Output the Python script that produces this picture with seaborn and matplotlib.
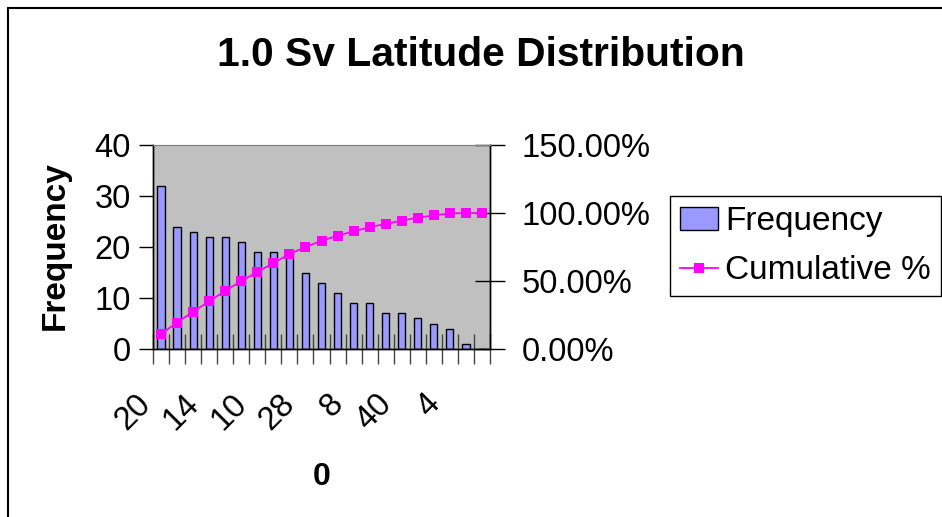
import numpy as np
import pandas as pd
import seaborn as sns
import matplotlib.pyplot as plt
from matplotlib.patches import Rectangle
from matplotlib.transforms import ScaledTranslation
from matplotlib.ticker import PercentFormatter, FixedLocator, MultipleLocator

# Frequency per latitude bin, sorted descending (Pareto order)
frequency = [32, 24, 23, 22, 22, 21, 19, 19, 19, 15, 13, 11, 9, 9, 7, 7, 6, 5, 4, 1, 0]
# only every third bin label is shown on the chart
shown_labels = ['20', '14', '10', '28', '8', '40', '4']

df = pd.DataFrame({'bin': np.arange(len(frequency)), 'Frequency': frequency})
df['Cumulative %'] = df['Frequency'].cumsum() / df['Frequency'].sum()

plt.rcParams['font.family'] = ['Liberation Sans', 'DejaVu Sans']

fig = plt.figure(figsize=(9.42, 5.17), dpi=100)
ax = fig.add_axes([153 / 942, 1 - 349 / 517, 337 / 942, 204 / 517])
ax2 = ax.twinx()

sns.barplot(data=df, x='bin', y='Frequency', native_scale=True, width=0.45,
            color='#9999FF', saturation=1, edgecolor='black', linewidth=1, ax=ax,
            label='Frequency')
sns.lineplot(data=df, x='bin', y='Cumulative %', color='#FF00FF', marker='s',
             markersize=6.5, markeredgewidth=0, linewidth=1.3, ax=ax2,
             label='Cumulative %', legend=False)
if ax.get_legend() is not None:
    ax.get_legend().remove()

ax.set_facecolor('#C0C0C0')
ax.set_xlim(-0.5, len(frequency) - 0.5)
ax.set_ylim(0, 40)
ax2.set_ylim(0, 1.5)
ax.set_zorder(0)
ax2.patch.set_visible(False)

tick_size = 23.5

# left axis
ax.yaxis.set_major_locator(MultipleLocator(10))
ax.tick_params(axis='y', direction='out', length=10, width=1, labelsize=tick_size, pad=6)
# bottom axis: ticks between bins, labels every third bin
ax.xaxis.set_major_locator(FixedLocator(np.arange(0, len(frequency), 3)))
ax.set_xticklabels(shown_labels, rotation=45, ha='right', va='center',
                   rotation_mode='anchor')
ax.xaxis.set_minor_locator(FixedLocator(np.arange(-0.5, len(frequency), 1)))
ax.tick_params(axis='x', which='major', length=0, labelsize=tick_size, pad=36)
ax.tick_params(axis='x', which='minor', direction='inout', length=22, width=1,
               color='#444444')
shift = ScaledTranslation(-15 / 100, 0, fig.dpi_scale_trans)
for lbl in ax.get_xticklabels():
    lbl.set_transform(lbl.get_transform() + shift)
ax.set_xlabel('')
ax.set_ylabel('')

# right axis
ax2.yaxis.set_major_locator(MultipleLocator(0.5))
ax2.yaxis.set_major_formatter(PercentFormatter(xmax=1, decimals=2))
ax2.tick_params(axis='y', direction='inout', length=22, width=1, labelsize=tick_size, pad=12)
ax2.set_ylabel('')

for a in (ax, ax2):
    for s in ('left', 'bottom', 'right'):
        a.spines[s].set_color('black')
        a.spines[s].set_linewidth(1)
    a.spines['top'].set_color('#808080')

fig.text(481 / 942, 1 - 55 / 517, '1.0 Sv Latitude Distribution', ha='center',
         va='center', fontsize=29.3, fontweight='bold')
fig.text(55 / 942, 1 - 246 / 517, 'Frequency', rotation=90, ha='center',
         va='center', fontsize=24, fontweight='bold')
fig.text(322 / 942, 1 - 477 / 517, '0', ha='center', va='center',
         fontsize=23, fontweight='bold')

h1, l1 = ax.get_legend_handles_labels()
h2, l2 = ax2.get_legend_handles_labels()
leg = fig.legend(h1 + h2, l1 + l2, loc='upper left',
                 bbox_to_anchor=(670 / 942, 1 - 196 / 517), fontsize=24,
                 frameon=True, fancybox=False, edgecolor='black', framealpha=1,
                 handlelength=1.15, handletextpad=0.2, labelspacing=0.55,
                 borderpad=0.3, borderaxespad=0)
leg.get_frame().set_linewidth(1)

# outer chart border (top and left edges visible)
fig.patches.append(Rectangle((7.5 / 942, -0.2), 1.5, 1.2 - 8 / 517,
                             transform=fig.transFigure, fill=False,
                             edgecolor='black', linewidth=1.5))

fig.savefig('out.png', dpi=100)
